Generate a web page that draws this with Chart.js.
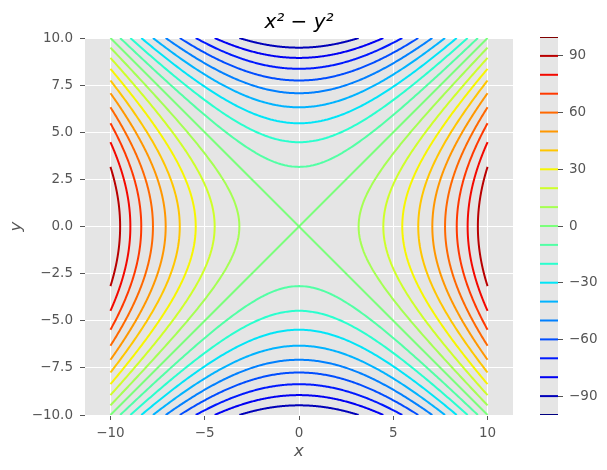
<!DOCTYPE html>
<html>
<head>
<meta charset="utf-8">
<script src="https://cdn.jsdelivr.net/npm/chart.js@4.4.1/dist/chart.umd.min.js"></script>
<style>
    html, body { margin: 0; padding: 0; background: #ffffff; }
    #wrap { position: relative; width: 607px; height: 470px; }
    #main { position: absolute; left: 0; top: 0; }
    #cbar { position: absolute; left: 530px; top: 0; }
</style>
</head>
<body>
<div id="wrap">
    <canvas id="main" width="530" height="470"></canvas>
    <canvas id="cbar" width="77" height="470"></canvas>
</div>
<script>
// contour levels of z = x^2 - y^2
const levels = [-100, -90, -80, -70, -60, -50, -40, -30, -20, -10, 0, 10, 20, 30, 40, 50, 60, 70, 80, 90, 100];
const gridExtent = [-10, 10];          // domain the function was sampled on
const xLimits = [-11.35, 11.35];
const yLimits = [-10, 10];
const xTicks = [-10, -5, 0, 5, 10];
const yTicks = [-10, -7.5, -5, -2.5, 0, 2.5, 5, 7.5, 10];
const cbarTicks = [-90, -60, -30, 0, 30, 60, 90];
const titleText = 'x\u00b2 \u2212 y\u00b2';

Chart.defaults.font.family = "'DejaVu Sans', sans-serif";
Chart.defaults.animation = false;

const BG = '#E5E5E5';
const TICK = '#555555';

// matplotlib 'jet'
const JET = {
    r: [[0, 0], [0.35, 0], [0.66, 1], [0.89, 1], [1, 0.5]],
    g: [[0, 0], [0.125, 0], [0.375, 1], [0.64, 1], [0.91, 0], [1, 0]],
    b: [[0, 0.5], [0.11, 1], [0.34, 1], [0.65, 0], [1, 0]]
};
function seg(pts, t) {
    for (let i = 1; i < pts.length; i++) {
        if (t <= pts[i][0]) {
            const [x0, y0] = pts[i - 1], [x1, y1] = pts[i];
            return y0 + (y1 - y0) * (t - x0) / (x1 - x0);
        }
    }
    return pts[pts.length - 1][1];
}
function jet(v) {
    const lo = levels[0], hi = levels[levels.length - 1];
    const t = Math.max(0, Math.min(1, (v - lo) / (hi - lo)));
    const c = k => Math.round(255 * seg(JET[k], t));
    return 'rgb(' + c('r') + ',' + c('g') + ',' + c('b') + ')';
}

// branches of x^2 - y^2 = c inside the sampled square
function branches(c) {
    const L = gridExtent[1], n = 100, out = [];
    if (Math.abs(c) >= L * L) return out;
    if (c === 0) {
        out.push([{x: -L, y: -L}, {x: L, y: L}]);
        out.push([{x: -L, y: L}, {x: L, y: -L}]);
        return out;
    }
    const span = Math.sqrt(L * L - Math.abs(c));
    for (const s of [-1, 1]) {
        const pts = [];
        for (let i = 0; i <= n; i++) {
            const u = -span + 2 * span * i / n;
            const w = s * Math.sqrt(Math.abs(c) + u * u);
            pts.push(c > 0 ? {x: w, y: u} : {x: u, y: w});
        }
        out.push(pts);
    }
    return out;
}

const fmt = (v, dec) => Number(v).toFixed(dec).replace('-', '\u2212');

const bgPlugin = {
    id: 'bg',
    beforeDraw(chart) {
        const a = chart.chartArea, ctx = chart.ctx;
        ctx.save();
        ctx.fillStyle = BG;
        ctx.fillRect(a.left, a.top, a.right - a.left, a.bottom - a.top);
        ctx.restore();
    }
};

const contourSets = [];
levels.forEach(c => {
    branches(c).forEach(pts => {
        contourSets.push({
            data: pts,
            showLine: true,
            borderColor: jet(c),
            borderWidth: 2,
            borderJoinStyle: 'round',
            pointRadius: 0,
            fill: false,
            // a tiny tension keeps Chart.js off its x-sorted fast path,
            // which mangles the nearly vertical branches
            tension: 0.001
        });
    });
});

new Chart(document.getElementById('main'), {
    type: 'scatter',
    data: { datasets: contourSets },
    options: {
        responsive: false,
        layout: { padding: { left: 0, right: 17, top: 0, bottom: 0 } },
        plugins: {
            legend: { display: false },
            tooltip: { enabled: false },
            title: {
                display: true,
                text: titleText,
                fullSize: false,
                color: '#000000',
                font: { size: 20, style: 'italic', weight: 'normal', lineHeight: 1.2 },
                padding: { top: 11, bottom: 3 }
            }
        },
        scales: {
            x: {
                type: 'linear',
                min: xLimits[0],
                max: xLimits[1],
                afterBuildTicks: s => { s.ticks = xTicks.map(v => ({value: v})); },
                afterFit: s => { s.height = 55; },
                border: { display: false },
                grid: { color: '#ffffff', lineWidth: 1, tickColor: TICK, tickLength: 5 },
                ticks: { color: TICK, font: { size: 13.5 }, padding: 5, maxRotation: 0,
                         callback: v => fmt(v, 0) },
                title: { display: true, text: 'x', color: TICK,
                         font: { size: 16.5, style: 'italic' }, padding: { top: 0, bottom: 8 } }
            },
            y: {
                type: 'linear',
                min: yLimits[0],
                max: yLimits[1],
                afterBuildTicks: s => { s.ticks = yTicks.map(v => ({value: v})); },
                afterFit: s => { s.width = 85; },
                border: { display: false },
                grid: { color: '#ffffff', lineWidth: 1, tickColor: TICK, tickLength: 5 },
                ticks: { color: TICK, font: { size: 13.5 }, padding: 7,
                         callback: v => fmt(v, 1) },
                title: { display: true, text: 'y', color: TICK,
                         font: { size: 16.5, style: 'italic' }, padding: { top: 7, bottom: 0 } }
            }
        }
    },
    plugins: [bgPlugin]
});

// colorbar: one short horizontal line per level
const cbarSets = levels.map(c => ({
    data: [{x: 0, y: c}, {x: 1, y: c}],
    showLine: true,
    borderColor: jet(c),
    borderWidth: 2,
    pointRadius: 0,
    clip: 0
}));

new Chart(document.getElementById('cbar'), {
    type: 'scatter',
    data: { datasets: cbarSets },
    options: {
        responsive: false,
        layout: { padding: { left: 10, right: 0, top: 37, bottom: 55 } },
        plugins: { legend: { display: false }, tooltip: { enabled: false } },
        scales: {
            x: { type: 'linear', min: 0, max: 1, display: false },
            y: {
                type: 'linear',
                position: 'right',
                min: levels[0],
                max: levels[levels.length - 1],
                afterBuildTicks: s => { s.ticks = cbarTicks.map(v => ({value: v})); },
                afterFit: s => { s.width = 49; },
                border: { display: false },
                grid: { drawOnChartArea: false, tickColor: TICK, tickLength: 5 },
                ticks: { color: TICK, font: { size: 13.5 }, padding: 6,
                         callback: v => fmt(v, 0) }
            }
        }
    },
    plugins: [bgPlugin]
});
</script>
</body>
</html>
